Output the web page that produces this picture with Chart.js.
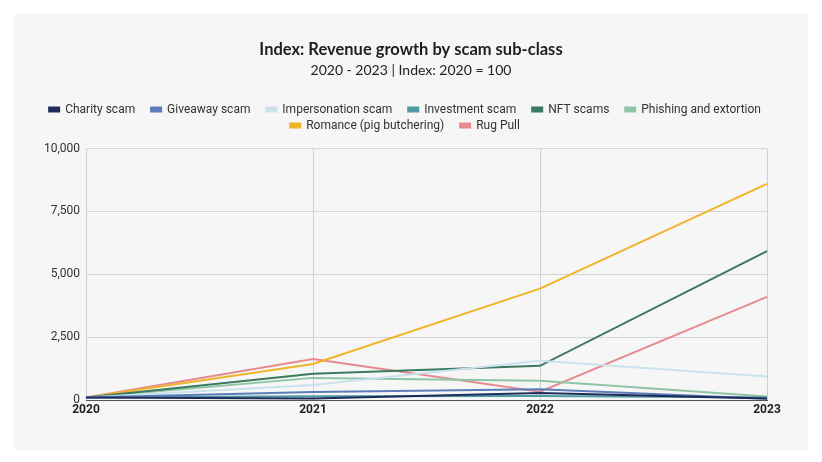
<!DOCTYPE html>
<html>
<head>
<meta charset="utf-8">
<script src="https://cdn.jsdelivr.net/npm/chart.js@4/dist/chart.umd.min.js"></script>
<style>
  html, body { margin: 0; padding: 0; background: #ffffff; }
  #panel { position: absolute; left: 14px; top: 14px; width: 794px; height: 436px; background: #f6f6f6; }
  #wrap { position: absolute; left: 0; top: 0; width: 822px; height: 462px; }
</style>
</head>
<body>
<div id="panel"></div>
<div id="wrap"><canvas id="scamChart" width="822" height="462"></canvas></div>
<script>
var years = ['2020', '2021', '2022', '2023'];

var charityScam = [100, 60, 280, 60];
var giveawayScam = [100, 320, 430, 50];
var impersonationScam = [100, 600, 1560, 930];
var investmentScam = [100, 150, 160, 100];
var nftScams = [100, 1040, 1360, 5920];
var phishingExtortion = [100, 880, 770, 140];
var romance = [100, 1430, 4430, 8600];
var rugPull = [100, 1630, 330, 4100];

var yTicks = [0, 2500, 5000, 7500, 10000];

function line(label, data, color) {
    return {
        label: label,
        data: data,
        borderColor: color,
        backgroundColor: color,
        borderWidth: 2,
        pointRadius: 0,
        tension: 0,
        fill: false
    };
}

// a bit more room under the legend
var legendGap = {
    id: 'legendGap',
    beforeInit: function (chart) {
        var fit = chart.legend.fit;
        chart.legend.fit = function () {
            fit.bind(chart.legend)();
            this.height += 7;
        };
    }
};

var ctx = document.getElementById('scamChart').getContext('2d');

var scamChart = new Chart(ctx, {
    type: 'line',
    data: {
        labels: years,
        datasets: [
            line('Charity scam', charityScam, '#1f2c5a'),
            line('Giveaway scam', giveawayScam, '#5c7cba'),
            line('Impersonation scam', impersonationScam, '#c9e3ee'),
            line('Investment scam', investmentScam, '#4f9aa3'),
            line('NFT scams', nftScams, '#3b7a60'),
            line('Phishing and extortion', phishingExtortion, '#8ec5a6'),
            line('Romance (pig butchering)', romance, '#f0b429'),
            line('Rug Pull', rugPull, '#e68a8f')
        ]
    },
    plugins: [legendGap],
    options: {
        responsive: false,
        animation: false,
        layout: { padding: { top: 40, right: 0, bottom: 0, left: 0 } },
        plugins: {
            title: {
                display: true,
                text: 'Index: Revenue growth by scam sub-class',
                color: '#1e1e1e',
                font: { family: 'Lato', size: 16.5, weight: 'bold' },
                padding: { top: 0, bottom: 2 }
            },
            subtitle: {
                display: true,
                text: '2020 - 2023 | Index: 2020 = 100',
                color: '#222222',
                font: { family: 'Lato', size: 14 },
                padding: { top: 0, bottom: 21 }
            },
            legend: {
                position: 'top',
                labels: {
                    color: '#333333',
                    font: { family: 'Roboto', size: 12 },
                    boxWidth: 10,
                    boxHeight: 4,
                    padding: 4,
                    generateLabels: function (chart) {
                        var items = Chart.defaults.plugins.legend.labels.generateLabels(chart);
                        items.forEach(function (it) { it.text = it.text + '    '; });
                        return items;
                    }
                }
            },
            tooltip: { enabled: false }
        },
        scales: {
            x: {
                offset: false,
                grid: { color: '#cfcfcf', drawTicks: false },
                border: { color: '#555555' },
                ticks: {
                    color: '#222222',
                    font: { family: 'Roboto', size: 12, weight: 'bold' },
                    padding: 3,
                    maxRotation: 0
                },
                afterFit: function (scale) { scale.height = 62; }
            },
            y: {
                min: 0,
                max: 10000,
                grid: { color: '#d4d4d4', drawTicks: false },
                border: { display: false },
                afterBuildTicks: function (scale) {
                    scale.ticks = yTicks.map(function (v) { return { value: v }; });
                },
                ticks: {
                    color: '#333333',
                    font: { family: 'Roboto', size: 12 },
                    padding: 6,
                    callback: function (v) { return v.toLocaleString('en-US'); }
                },
                afterFit: function (scale) { scale.width = 86; }
            },
            yRight: {
                position: 'right',
                display: true,
                grid: { display: false },
                border: { display: false },
                ticks: { display: false },
                afterFit: function (scale) { scale.width = 55; }
            }
        }
    }
});
</script>
</body>
</html>
